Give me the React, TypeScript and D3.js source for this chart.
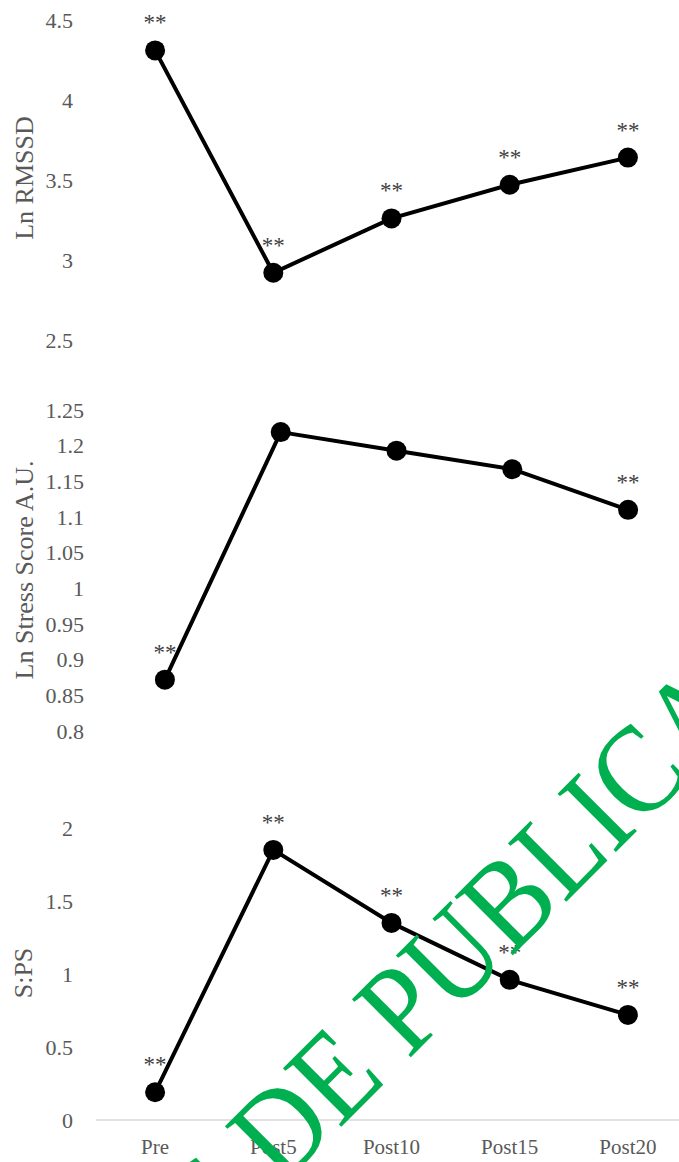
import * as d3 from 'd3'

const categories = ['Pre', 'Post5', 'Post10', 'Post15', 'Post20']

const rmssd = [4.31, 2.92, 3.26, 3.47, 3.64]
const rmssdSig = [true, true, true, true, true]
const rmssdTicks = [2.5, 3, 3.5, 4, 4.5]

const stress = [0.872, 1.219, 1.193, 1.167, 1.11]
const stressSig = [true, false, false, false, true]
const stressTicks = [0.8, 0.85, 0.9, 0.95, 1, 1.05, 1.1, 1.15, 1.2, 1.25]

const sps = [0.19, 1.85, 1.35, 0.96, 0.72]
const spsSig = [true, true, true, true, true]
const spsTicks = [0, 0.5, 1, 1.5, 2]

const W = 679
const H = 1162
const font = "'Liberation Serif', 'Times New Roman', serif"
const grey = '#595959'

interface PanelProps {
	values: number[]
	sig: boolean[]
	ticks: number[]
	title: string
	xRange: [number, number]
	yRange: [number, number]
	titleAt: [number, number]
	baseline?: boolean
}

const Panel = ({ values, sig, ticks, title, xRange, yRange, titleAt, baseline }: PanelProps) => {
	const x = d3.scaleBand().domain(categories).range(xRange)
	const y = d3
		.scaleLinear()
		.domain([ticks[0], ticks[ticks.length - 1]])
		.range(yRange)
	const cx = (c: string) => x(c)! + x.bandwidth() / 2
	const line = d3
		.line<number>()
		.x((_, i) => cx(categories[i]))
		.y((d) => y(d))

	return (
		<g>
			{ticks.map((t) => (
				<text
					key={t}
					x={xRange[0] - 23}
					y={y(t)}
					dy='0.35em'
					textAnchor='end'
					fontSize={22}
					fill={grey}
				>
					{t}
				</text>
			))}
			<text
				transform={`translate(${titleAt[0]},${titleAt[1]}) rotate(-90)`}
				textAnchor='middle'
				fontSize={26}
				fill={grey}
			>
				{title}
			</text>
			{baseline && (
				<line x1={xRange[0]} x2={W} y1={y(0)} y2={y(0)} stroke='#d9d9d9' strokeWidth={1.5} />
			)}
			<path d={line(values)!} fill='none' stroke='#000' strokeWidth={4} />
			{values.map((v, i) => (
				<circle key={i} cx={cx(categories[i])} cy={y(v)} r={10} fill='#000' />
			))}
			{values.map((v, i) =>
				sig[i] ? (
					<text
						key={'s' + i}
						x={cx(categories[i])}
						y={y(v) - 20}
						textAnchor='middle'
						fontSize={23}
						fill='#404040'
					>
						**
					</text>
				) : null
			)}
		</g>
	)
}

export default function App() {
	const xTop: [number, number] = [96, 687]
	const xAxis = d3.scaleBand().domain(categories).range(xTop)

	// watermark: baseline start of "DE"
	const wx = 281
	const wy = 1187
	const wSize = 126

	return (
		<svg
			width={W}
			height={H}
			style={{ position: 'absolute', left: 0, top: 0, background: '#fff' }}
			fontFamily={font}
		>
			<Panel
				values={rmssd}
				sig={rmssdSig}
				ticks={rmssdTicks}
				title='Ln RMSSD'
				xRange={xTop}
				yRange={[340, 20]}
				titleAt={[33, 178]}
			/>
			<Panel
				values={stress}
				sig={stressSig}
				ticks={stressTicks}
				title='Ln Stress Score A.U.'
				xRange={[107, 686]}
				yRange={[731, 410]}
				titleAt={[33, 570]}
			/>
			<Panel
				values={sps}
				sig={spsSig}
				ticks={spsTicks}
				title='S:PS'
				xRange={xTop}
				yRange={[1120, 828]}
				titleAt={[32, 973]}
				baseline
			/>
			{categories.map((c) => (
				<text
					key={c}
					x={xAxis(c)! + xAxis.bandwidth() / 2}
					y={1154}
					textAnchor='middle'
					fontSize={21}
					fill={grey}
				>
					{c}
				</text>
			))}
			<g
				transform={`translate(${wx},${wy}) rotate(-45) scale(0.9,1)`}
				fill='#00b050'
				fontSize={wSize}
			>
				<text x={-wSize * 0.25} textAnchor='end'>
					PRUEBAS
				</text>
				<text x={0}>DE PUBLICACIÓN</text>
			</g>
		</svg>
	)
}
